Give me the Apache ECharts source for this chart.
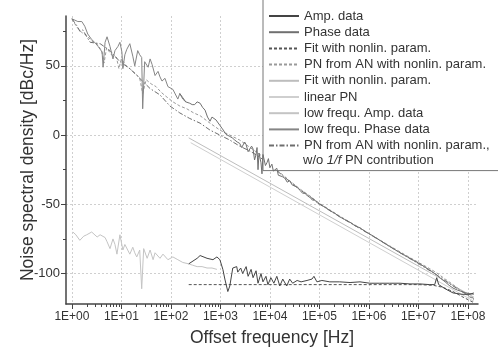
<!DOCTYPE html>
<html><head><meta charset="utf-8">
<script src="https://cdn.jsdelivr.net/npm/echarts@6/dist/echarts.min.js"></script>
<style>html,body{margin:0;padding:0;background:#fff}#c{width:498px;height:352px}</style>
</head><body><div id="c"></div><script>
// Frequencies are given as decade exponents (log10 of Hz); values in dBc/Hz
const xTickExps = [0,1,2,3,4,5,6,7,8];
const yTickVals = [-100,-50,0,50];
const yMinorVals = [-75,-25,25,75];

const ampLogF = [2.36,2.53,2.59,2.73,2.85,2.93,2.99,3.05,3.09,3.15,3.19,3.25,3.33,3.35,3.41,3.45,3.52,3.56,3.62,3.66,3.72,3.76,3.82,3.86,3.92,3.96,4.02,4.08,4.14,4.20,4.26,4.34,4.40,4.46,4.55,4.63,4.75,4.85,4.89,4.95,5.05,5.21,5.41,5.62,5.82,6.02,6.22,6.42,6.63,6.83,7.03,7.23,7.33,7.37,7.41,7.54,7.70,7.88,8.04,8.12];
const ampDb   = [-93,-89,-87,-89,-90,-88,-90,-97,-104,-113,-109,-96,-95,-99,-96,-100,-95,-102,-97,-103,-98,-107,-100,-106,-102,-108,-103,-107,-102,-109,-104,-109,-104,-107,-105,-106,-105,-104,-102,-106,-105,-106,-106,-106.5,-106,-107,-107,-107,-107,-107.5,-107.5,-108,-108,-103,-108,-111,-114,-115,-115,-114];

const phaseLogF = [2.18,2.24,2.30,2.34,2.38,2.43,2.48,2.53,2.59,2.64,2.69,2.74,2.79,2.83,2.87,2.91,2.95,2.99,3.03,3.07,3.09,3.14,3.19,3.24,3.29,3.34,3.39,3.43,3.45,3.49,3.52,3.56,3.60,3.63,3.66,3.69,3.72,3.74,3.76,3.78,3.80,3.82,3.84,3.86,3.88,3.91,3.94,3.97,4.00,4.04,4.07,4.10,4.14,4.17,4.20,4.25,4.30,4.35,4.40,4.45,4.51,4.56,4.61,4.66,4.71,4.76,4.81,4.86,4.91,4.96,5.01,5.11,5.21,5.31,5.41,5.51,5.62,5.72,5.82,5.92,6.02,6.22,6.42,6.63,6.83,7.03,7.23,7.37,7.45,7.54,7.62,7.70,7.79,7.88,7.96,8.04,8.12];
const phaseDb   = [30,27,24,25,23,22,22,24,23,20,18,13,10,13,14,11,12,7,5,3,1.4,0,-1,-2,-3.6,-5,-6,-9,-8,-5,-7,-12,-13,-8,-10,-18,-14,-9,-25,-13,-12,-20,-28,-14,-15,-22,-20,-17,-23.6,-21,-26,-25,-24,-29,-28,-30,-31,-34,-33,-36,-37,-38,-40,-42,-42,-44,-45,-47,-47,-49,-50,-52,-54.5,-56.5,-59,-61,-63,-65.5,-67,-69.5,-71.5,-76,-80.5,-85,-89,-93,-97.5,-101,-103.5,-106,-108.5,-110.5,-112,-113,-114,-114.5,-115];

const fitAnLogF = [2.36,7.0,7.3,7.5,7.7,7.9,8.12];
const fitAnDb   = [-108,-108,-108.5,-110,-113,-117,-121];

const pnAnLogF = [0.00,0.10,0.20,0.30,0.40,0.50,0.60,0.65,0.70,0.80,0.90,0.95,1.00,1.10,1.20,1.30,1.37,1.43,1.50,1.60,1.70,1.80,1.90,2.04,2.18,2.32,2.46,2.59,2.79,2.99,3.19,3.39,3.60,3.80,4.00,4.20,4.40,4.61,4.81,5.01,5.21,5.41,5.62,5.82,6.02,6.42,6.83,7.03,7.23,7.37,7.54,7.70,7.88,8.04,8.12];
const pnAnDb   = [84,78,74,72,68,66,61,52,63,58,56,48,55,50,47,44,41,30,40,37,35,31,28,24,21,19,16,14,8.6,3.6,0,-3.6,-9,-14,-21,-27,-33,-39,-44,-49.5,-54,-58.5,-63,-67,-71.5,-80,-88.5,-92.5,-96.5,-99.5,-104,-108,-113,-117,-119];

const fitPnLogF = [2.36,8.12];
const fitPnDb   = [-2,-117];

const linPnLogF = [2.40,8.12];
const linPnDb   = [-5.5,-120];

const lowAmpLogF = [0.02,0.08,0.16,0.24,0.30,0.40,0.51,0.57,0.61,0.67,0.71,0.77,0.83,0.87,0.91,0.97,1.03,1.07,1.11,1.17,1.23,1.27,1.31,1.37,1.41,1.45,1.52,1.58,1.64,1.68,1.72,1.78,1.84,1.88,1.94,1.98,2.04,2.08,2.14,2.18,2.24,2.28,2.36,2.44,2.53,2.63,2.73,2.83,2.93];
const lowAmpDb   = [-70,-72,-76,-73,-72,-70,-73.6,-72,-71,-74,-77,-82,-75,-79,-86,-72,-83,-79,-78.6,-86,-81,-85,-88,-83,-111,-82,-89,-83,-90,-85,-86,-89,-86,-86,-90,-90,-88,-89,-90,-91.4,-92,-93,-93,-94,-95,-95,-96,-96,-97];

const lowPhaseLogF = [0.00,0.06,0.12,0.20,0.26,0.32,0.40,0.46,0.53,0.57,0.61,0.63,0.67,0.71,0.77,0.83,0.87,0.93,0.97,1.01,1.03,1.07,1.11,1.17,1.23,1.27,1.33,1.37,1.41,1.43,1.47,1.54,1.58,1.62,1.68,1.74,1.78,1.82,1.88,1.94,1.98,2.04,2.08,2.14,2.18,2.24,2.30];
const lowPhaseDb   = [84,83,82,82,78.6,73,69,67,64,62,60,49,67,71,64,55,61,64,67,60,48,58,62,66,57,50,61,58,56,19,53,49,55,51,43,46,42,39,41,35,33.6,33,32,26,30,26,24];

const pnNo1fLogF = [0.00,0.10,0.16,0.22,0.30,0.37,0.57,0.77,0.97,1.17,1.37,1.58,1.78,1.98,2.18,2.38,2.59,2.79,2.99,3.19,3.39,3.60,3.80,4.00,4.20,4.40,4.61,4.81,5.01,5.41,5.82,6.22,6.63,7.03,7.37,7.54,7.70,7.88,8.04,8.12];
const pnNo1fDb   = [84,79,75,76,71,67,66,61,53,48,41,33.6,29,21,16,12,8.6,3.6,0,-3.6,-8,-11.6,-16,-22,-27.5,-33.5,-39.5,-44.5,-50,-59,-67.5,-76,-85,-93.5,-101,-105,-109,-113,-116.5,-118];

const seriesNames = [
  'Amp. data',
  'Phase data',
  'Fit with nonlin. param.',
  'PN from AN with nonlin. param.',
  'Fit with nonlin. param. ',
  'linear PN',
  'low frequ. Amp. data',
  'low frequ. Phase data',
  'PN from AN with nonlin. param.,'
];
const legendContinuation = 'w/o {i|1/f} PN contribution';

function pairs(lf, db){ return lf.map((e,i)=>[Math.pow(10,e), db[i]]); }

const chart = echarts.init(document.getElementById('c'), null, {renderer:'canvas'});
const FONT = 'Liberation Sans, Arial, sans-serif';
const minorX = [];
xTickExps.forEach(e=>{ for(let k=2;k<=9;k++){ const v=k*Math.pow(10,e); if(v<1.6e8) minorX.push(v);} });
const majorX = xTickExps.map(e=>Math.pow(10,e));

function line(name, data, color, type, width, z){
  return {name, type:'line', data, symbol:'none', xAxisIndex:0, yAxisIndex:0,
    lineStyle:{color, width:width||1, type:type||'solid'}, itemStyle:{color}, z:z||2, animation:false};
}

const option = {
  backgroundColor:'#fff',
  animation:false,
  grid:{left:66, right:20, top:16, bottom:44},
  xAxis:[{
    type:'log', logBase:10, min:0.76, max:1.6e8, position:'bottom',
    name:'Offset frequency [Hz]', nameLocation:'middle', nameGap:25, nameMoveOverlap:false,
    nameTextStyle:{fontFamily:FONT, fontSize:17.5, color:'#333'},
    axisLine:{show:true, onZero:false, lineStyle:{color:'#444', width:1.5}},
    axisTick:{show:true, inside:false, length:5, customValues:majorX, lineStyle:{color:'#444', width:1}},
    axisLabel:{customValues:majorX, margin:7, fontFamily:FONT, fontSize:12, color:'#333',
      formatter:v=>{const e=Math.round(Math.log10(v)); return '1E+'+String(e).padStart(2,'0');}},
    splitLine:{show:true, lineStyle:{color:'#cfcfcf', type:[2,2], width:1}},
    minorTick:{show:false}
  },{
    type:'log', logBase:10, min:0.76, max:1.6e8, position:'bottom',
    axisLine:{show:false, onZero:false},
    axisTick:{show:true, inside:false, length:3, customValues:minorX, lineStyle:{color:'#444', width:1}},
    axisLabel:{show:false}, splitLine:{show:false}
  }],
  yAxis:[{
    type:'value', min:-122, max:86, position:'left',
    name:'Noise spectral density [dBc/Hz]', nameLocation:'middle', nameGap:29, nameMoveOverlap:false,
    nameTextStyle:{fontFamily:FONT, fontSize:17.5, color:'#333'},
    axisLine:{show:true, onZero:false, lineStyle:{color:'#444', width:1.5}},
    axisTick:{show:true, inside:false, length:5, customValues:yTickVals, lineStyle:{color:'#444', width:1}},
    axisLabel:{customValues:yTickVals, margin:6, fontFamily:FONT, fontSize:13, color:'#333'},
    splitLine:{show:true, lineStyle:{color:'#cfcfcf', type:[2,2], width:1}}
  },{
    type:'value', min:-122, max:86, position:'left', offset:0,
    axisLine:{show:false, onZero:false},
    axisTick:{show:true, inside:false, length:3, customValues:yMinorVals, lineStyle:{color:'#444', width:1}},
    axisLabel:{show:false}, splitLine:{show:false}
  }],
  legend:{
    show:true, orient:'vertical', left:263, top:-1,
    padding:[9,20,17,5], itemGap:0.2, itemWidth:30, itemHeight:8,
    backgroundColor:'#fff', borderColor:'#777', borderWidth:1,
    selectedMode:false, data:seriesNames,
    itemStyle:{color:'rgba(0,0,0,0)', borderWidth:0, opacity:0},
    textStyle:{fontFamily:FONT, fontSize:13, color:'#333', lineHeight:16}
  },
  graphic:[{
    type:'text', left:303, top:154, z:100,
    style:{text:legendContinuation, fill:'#333', fontFamily:FONT, fontSize:13,
      rich:{i:{fontStyle:'italic', fontFamily:FONT, fontSize:13, fill:'#333'}}}
  }],
  series:[
    line(seriesNames[6], pairs(lowAmpLogF, lowAmpDb), '#c4c4c4', 'solid', 1, 2),
    line(seriesNames[5], pairs(linPnLogF, linPnDb), '#cfcfcf', 'solid', 1, 2),
    line(seriesNames[4], pairs(fitPnLogF, fitPnDb), '#bdbdbd', 'solid', 1, 2),
    line(seriesNames[3], pairs(pnAnLogF, pnAnDb), '#9a9a9a', [3,2], 1, 3),
    line(seriesNames[8], pairs(pnNo1fLogF, pnNo1fDb), '#6e6e6e', [5,2,1.5,2], 1, 3),
    line(seriesNames[7], pairs(lowPhaseLogF, lowPhaseDb), '#858585', 'solid', 1, 4),
    line(seriesNames[1], pairs(phaseLogF, phaseDb), '#707070', 'solid', 1, 4),
    line(seriesNames[2], pairs(fitAnLogF, fitAnDb), '#555', [3,2], 1, 5),
    line(seriesNames[0], pairs(ampLogF, ampDb), '#444', 'solid', 1, 6)
  ]
};
chart.setOption(option);
</script></body></html>
